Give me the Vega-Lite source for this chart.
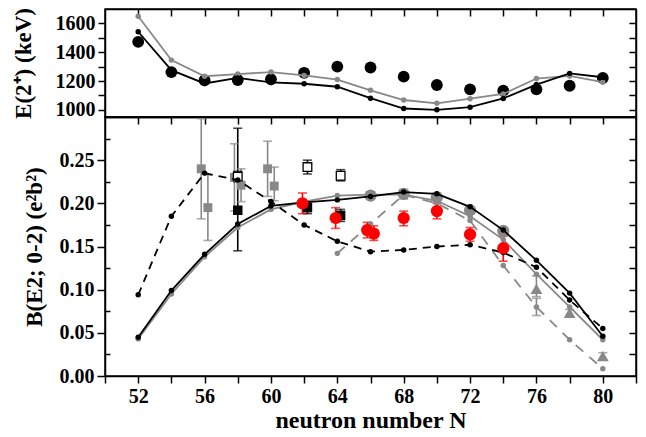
{
  "$schema": "https://vega.github.io/schema/vega-lite/v6.json",
  "padding": {"left": 11, "top": 6, "right": 8, "bottom": 2},
  "spacing": 0,
  "bounds": "flush",
  "background": "white",
  "datasets": {
    "topExp": [
      {"N": 52, "E": 1472}, {"N": 54, "E": 1262}, {"N": 56, "E": 1205}, {"N": 58, "E": 1207},
      {"N": 60, "E": 1212}, {"N": 62, "E": 1257}, {"N": 64, "E": 1300}, {"N": 66, "E": 1294},
      {"N": 68, "E": 1230}, {"N": 70, "E": 1172}, {"N": 72, "E": 1142}, {"N": 74, "E": 1133},
      {"N": 76, "E": 1142}, {"N": 78, "E": 1167}, {"N": 80, "E": 1221}
    ],
    "topTh": [
      {"N": 52, "E": 1542, "m": "black"}, {"N": 54, "E": 1275, "m": "black"}, {"N": 56, "E": 1183, "m": "black"},
      {"N": 58, "E": 1221, "m": "black"}, {"N": 60, "E": 1190, "m": "black"}, {"N": 62, "E": 1181, "m": "black"},
      {"N": 64, "E": 1160, "m": "black"}, {"N": 66, "E": 1081, "m": "black"}, {"N": 68, "E": 1009, "m": "black"},
      {"N": 70, "E": 1000, "m": "black"}, {"N": 72, "E": 1018, "m": "black"}, {"N": 74, "E": 1079, "m": "black"},
      {"N": 76, "E": 1175, "m": "black"}, {"N": 78, "E": 1253, "m": "black"}, {"N": 80, "E": 1226, "m": "black"},
      {"N": 52, "E": 1650, "m": "gray"}, {"N": 54, "E": 1345, "m": "gray"}, {"N": 56, "E": 1233, "m": "gray"},
      {"N": 58, "E": 1248, "m": "gray"}, {"N": 60, "E": 1262, "m": "gray"}, {"N": 62, "E": 1239, "m": "gray"},
      {"N": 64, "E": 1210, "m": "gray"}, {"N": 66, "E": 1135, "m": "gray"}, {"N": 68, "E": 1068, "m": "gray"},
      {"N": 70, "E": 1045, "m": "gray"}, {"N": 72, "E": 1077, "m": "gray"}, {"N": 74, "E": 1110, "m": "gray"},
      {"N": 76, "E": 1217, "m": "gray"}, {"N": 78, "E": 1235, "m": "gray"}, {"N": 80, "E": 1192, "m": "gray"}
    ],
    "btTh": [
      {"N": 52, "B": 0.045, "m": "sb"}, {"N": 54, "B": 0.099, "m": "sb"}, {"N": 56, "B": 0.141, "m": "sb"},
      {"N": 58, "B": 0.176, "m": "sb"}, {"N": 60, "B": 0.197, "m": "sb"}, {"N": 62, "B": 0.201, "m": "sb"},
      {"N": 64, "B": 0.204, "m": "sb"}, {"N": 66, "B": 0.208, "m": "sb"}, {"N": 68, "B": 0.213, "m": "sb"},
      {"N": 70, "B": 0.211, "m": "sb"}, {"N": 72, "B": 0.196, "m": "sb"}, {"N": 74, "B": 0.169, "m": "sb"},
      {"N": 76, "B": 0.134, "m": "sb"}, {"N": 78, "B": 0.096, "m": "sb"}, {"N": 80, "B": 0.046, "m": "sb"},
      {"N": 52, "B": 0.043, "m": "sg"}, {"N": 54, "B": 0.095, "m": "sg"}, {"N": 56, "B": 0.138, "m": "sg"},
      {"N": 58, "B": 0.172, "m": "sg"}, {"N": 60, "B": 0.193, "m": "sg"}, {"N": 62, "B": 0.202, "m": "sg"},
      {"N": 64, "B": 0.209, "m": "sg"}, {"N": 66, "B": 0.21, "m": "sg"}, {"N": 68, "B": 0.21, "m": "sg"},
      {"N": 70, "B": 0.203, "m": "sg"}, {"N": 72, "B": 0.185, "m": "sg"}, {"N": 74, "B": 0.158, "m": "sg"},
      {"N": 76, "B": 0.118, "m": "sg"}, {"N": 78, "B": 0.08, "m": "sg"}, {"N": 80, "B": 0.042, "m": "sg"},
      {"N": 52, "B": 0.094, "m": "db"}, {"N": 54, "B": 0.185, "m": "db"}, {"N": 56, "B": 0.235, "m": "db"},
      {"N": 58, "B": 0.227, "m": "db"}, {"N": 60, "B": 0.202, "m": "db"}, {"N": 62, "B": 0.175, "m": "db"},
      {"N": 64, "B": 0.156, "m": "db"}, {"N": 66, "B": 0.144, "m": "db"}, {"N": 68, "B": 0.146, "m": "db"},
      {"N": 70, "B": 0.15, "m": "db"}, {"N": 72, "B": 0.152, "m": "db"}, {"N": 74, "B": 0.143, "m": "db"},
      {"N": 76, "B": 0.126, "m": "db"}, {"N": 78, "B": 0.088, "m": "db"}, {"N": 80, "B": 0.055, "m": "db"},
      {"N": 64, "B": 0.142, "m": "dg"}, {"N": 66, "B": 0.176, "m": "dg"}, {"N": 68, "B": 0.21, "m": "dg"},
      {"N": 70, "B": 0.2, "m": "dg"}, {"N": 72, "B": 0.18, "m": "dg"}, {"N": 74, "B": 0.128, "m": "dg"},
      {"N": 76, "B": 0.08, "m": "dg"}, {"N": 78, "B": 0.042, "m": "dg"}, {"N": 80, "B": 0.0085, "m": "dg"}
    ],
    "btExp": [
      {"N": 55.8, "B": 0.24, "lo": 0.182, "hi": 0.298, "k": "gsq"},
      {"N": 56.2, "B": 0.195, "lo": 0.157, "hi": 0.233, "k": "gsq"},
      {"N": 57.8, "B": 0.23, "lo": 0.191, "hi": 0.269, "k": "gsq"},
      {"N": 58.2, "B": 0.221, "lo": 0.202, "hi": 0.24, "k": "gsq"},
      {"N": 59.8, "B": 0.24, "lo": 0.208, "hi": 0.272, "k": "gsq"},
      {"N": 60.2, "B": 0.22, "lo": 0.203, "hi": 0.242, "k": "gsq"},
      {"N": 58.0, "B": 0.192, "lo": 0.145, "hi": 0.287, "k": "bsq"},
      {"N": 62.2, "B": 0.195, "lo": 0.188, "hi": 0.202, "k": "bsq"},
      {"N": 64.2, "B": 0.186, "lo": 0.179, "hi": 0.193, "k": "bsq"},
      {"N": 58.0, "B": 0.231, "lo": 0.225, "hi": 0.237, "k": "osq"},
      {"N": 62.2, "B": 0.242, "lo": 0.234, "hi": 0.25, "k": "osq"},
      {"N": 64.2, "B": 0.232, "lo": 0.226, "hi": 0.239, "k": "osq"},
      {"N": 61.9, "B": 0.2, "lo": 0.188, "hi": 0.212, "k": "red"},
      {"N": 63.9, "B": 0.183, "lo": 0.171, "hi": 0.195, "k": "red"},
      {"N": 65.8, "B": 0.169, "lo": 0.16, "hi": 0.178, "k": "red"},
      {"N": 66.2, "B": 0.165, "lo": 0.157, "hi": 0.174, "k": "red"},
      {"N": 68.0, "B": 0.183, "lo": 0.174, "hi": 0.191, "k": "red"},
      {"N": 70.0, "B": 0.191, "lo": 0.182, "hi": 0.2, "k": "red"},
      {"N": 72.0, "B": 0.164, "lo": 0.156, "hi": 0.172, "k": "red"},
      {"N": 74.0, "B": 0.148, "lo": 0.133, "hi": 0.162, "k": "red"},
      {"N": 66.0, "B": 0.209, "lo": 0.205, "hi": 0.213, "k": "gci"},
      {"N": 68.0, "B": 0.211, "lo": 0.205, "hi": 0.216, "k": "gci"},
      {"N": 70.0, "B": 0.207, "lo": 0.201, "hi": 0.212, "k": "gci"},
      {"N": 72.0, "B": 0.192, "lo": 0.188, "hi": 0.196, "k": "gci"},
      {"N": 74.0, "B": 0.168, "lo": 0.164, "hi": 0.172, "k": "gci"},
      {"N": 76.0, "B": 0.101, "lo": 0.092, "hi": 0.116, "k": "gtr"},
      {"N": 78.0, "B": 0.073, "lo": 0.069, "hi": 0.077, "k": "gtr"},
      {"N": 80.0, "B": 0.023, "lo": 0.019, "hi": 0.027, "k": "gtr"},
      {"N": 76.0, "B": 0.08, "lo": 0.07, "hi": 0.09, "k": "gdot"}
    ]
  },
  "vconcat": [
    {
      "width": 531,
      "height": 108,
      "layer": [
        {
          "data": {"name": "topExp"},
          "mark": {"type": "point", "opacity": 0},
          "encoding": {
            "x": {"field": "N", "type": "quantitative", "scale": {"domain": [50, 82], "nice": false, "zero": false},
                  "axis": {"orient": "bottom", "values": [50,52,54,56,58,60,62,64,66,68,70,72,74,76,78,80,82], "labels": false, "ticks": false, "title": null}},
            "y": {"field": "E", "type": "quantitative", "scale": {"domain": [950, 1700], "nice": false, "zero": false},
                  "axis": {"orient": "left", "values": [1000,1100,1200,1300,1400,1500,1600], "format": "d", "tickSize": 7, "labelPadding": 3,
                           "labelExpr": "datum.value % 200 == 0 ? datum.label : ''", "title": "E(2⁺) (keV)", "titlePadding": 20}}
          }
        },
        {
          "data": {"name": "topExp"},
          "mark": {"type": "point", "opacity": 0},
          "encoding": {
            "x": {"field": "N", "type": "quantitative", "scale": {"domain": [50, 82], "nice": false, "zero": false},
                  "axis": {"orient": "top", "values": [52,54,56,58,60,62,64,66,68,70,72,74,76,78,80], "labels": false, "tickSize": -7, "title": null}},
            "y": {"field": "E", "type": "quantitative", "scale": {"domain": [950, 1700], "nice": false, "zero": false},
                  "axis": {"orient": "right", "values": [1000,1100,1200,1300,1400,1500,1600], "labels": false, "tickSize": -7, "title": null}}
          }
        },
        {
          "data": {"name": "topExp"},
          "mark": {"type": "circle", "color": "black", "opacity": 1, "size": 140},
          "encoding": {
            "x": {"field": "N", "type": "quantitative", "scale": {"domain": [50, 82], "nice": false, "zero": false}, "axis": null},
            "y": {"field": "E", "type": "quantitative", "scale": {"domain": [950, 1700], "nice": false, "zero": false}, "axis": null}
          }
        },
        {
          "data": {"name": "topTh"},
          "transform": [{"filter": "datum.m == 'gray'"}],
          "mark": {"type": "line", "color": "#888888", "strokeWidth": 1.8, "point": {"filled": true, "color": "#888888", "size": 30}},
          "encoding": {
            "x": {"field": "N", "type": "quantitative", "scale": {"domain": [50, 82], "nice": false, "zero": false}, "axis": null},
            "y": {"field": "E", "type": "quantitative", "scale": {"domain": [950, 1700], "nice": false, "zero": false}, "axis": null}
          }
        },
        {
          "data": {"name": "topTh"},
          "transform": [{"filter": "datum.m == 'black'"}],
          "mark": {"type": "line", "color": "black", "strokeWidth": 1.8, "point": {"filled": true, "color": "black", "size": 30}},
          "encoding": {
            "x": {"field": "N", "type": "quantitative", "scale": {"domain": [50, 82], "nice": false, "zero": false}, "axis": null},
            "y": {"field": "E", "type": "quantitative", "scale": {"domain": [950, 1700], "nice": false, "zero": false}, "axis": null}
          }
        }
      ],
      "resolve": {"axis": {"x": "independent", "y": "independent"}}
    },
    {
      "width": 531,
      "height": 259,
      "layer": [
        {
          "data": {"name": "btTh"},
          "mark": {"type": "point", "opacity": 0},
          "encoding": {
            "x": {"field": "N", "type": "quantitative", "scale": {"domain": [50, 82], "nice": false, "zero": false},
                  "axis": {"orient": "bottom", "values": [50,52,54,56,58,60,62,64,66,68,70,72,74,76,78,80,82], "tickSize": 7, "labelPadding": 3,
                           "labelExpr": "(datum.value - 52) % 4 == 0 ? datum.label : ''", "title": "neutron number N", "titlePadding": 2, "titleFontSize": 24}},
            "y": {"field": "B", "type": "quantitative", "scale": {"domain": [0, 0.3], "nice": false, "zero": false},
                  "axis": {"orient": "left", "values": [0, 0.05, 0.1, 0.15, 0.2, 0.25], "format": ".2f", "tickSize": 8, "labelPadding": 3,
                           "title": "B(E2; 0-2) (e²b²)", "titlePadding": 13}}
          }
        },
        {
          "data": {"name": "btTh"},
          "mark": {"type": "point", "opacity": 0},
          "encoding": {
            "x": {"field": "N", "type": "quantitative", "scale": {"domain": [50, 82], "nice": false, "zero": false},
                  "axis": {"orient": "top", "values": [52,54,56,58,60,62,64,66,68,70,72,74,76,78,80], "labels": false, "tickSize": -7, "title": null}},
            "y": {"field": "B", "type": "quantitative", "scale": {"domain": [0, 0.3], "nice": false, "zero": false},
                  "axis": {"orient": "right", "values": [0.025, 0.05, 0.075, 0.1, 0.125, 0.15, 0.175, 0.2, 0.225, 0.25, 0.275], "labels": false, "tickSize": -7, "title": null}}
          }
        },
        {
          "data": {"name": "btTh"},
          "mark": {"type": "point", "opacity": 0},
          "encoding": {
            "x": {"field": "N", "type": "quantitative", "scale": {"domain": [50, 82], "nice": false, "zero": false}, "axis": null},
            "y": {"field": "B", "type": "quantitative", "scale": {"domain": [0, 0.3], "nice": false, "zero": false},
                  "axis": {"orient": "left", "values": [0.025, 0.075, 0.125, 0.175, 0.225, 0.275], "labels": false, "domain": false, "tickSize": -5, "title": null}}
          }
        },
        {
          "data": {"name": "btExp"},
          "mark": {"type": "rule", "strokeWidth": 1.6},
          "encoding": {
            "x": {"field": "N", "type": "quantitative", "scale": {"domain": [50, 82], "nice": false, "zero": false}, "axis": null},
            "y": {"field": "lo", "type": "quantitative", "scale": {"domain": [0, 0.3], "nice": false, "zero": false}, "axis": null},
            "y2": {"field": "hi"},
            "color": {"field": "k", "type": "nominal", "legend": null,
                      "scale": {"domain": ["gsq", "bsq", "osq", "red", "gci", "gtr", "gdot"], "range": ["#888888", "black", "black", "#ff0000", "#888888", "#888888", "#888888"]}}
          }
        },
        {
          "data": {"name": "btExp"},
          "transform": [{"fold": ["lo", "hi"], "as": ["end", "val"]}],
          "mark": {"type": "tick", "orient": "horizontal", "size": 9, "thickness": 1.6},
          "encoding": {
            "x": {"field": "N", "type": "quantitative", "scale": {"domain": [50, 82], "nice": false, "zero": false}, "axis": null},
            "y": {"field": "val", "type": "quantitative", "scale": {"domain": [0, 0.3], "nice": false, "zero": false}, "axis": null},
            "color": {"field": "k", "type": "nominal", "legend": null,
                      "scale": {"domain": ["gsq", "bsq", "osq", "red", "gci", "gtr", "gdot"], "range": ["#888888", "black", "black", "#ff0000", "#888888", "#888888", "#888888"]}}
          }
        },
        {
          "data": {"name": "btExp"},
          "transform": [{"filter": "datum.k == 'gsq'"}],
          "mark": {"type": "square", "filled": true, "color": "#888888", "opacity": 1, "size": 80},
          "encoding": {
            "x": {"field": "N", "type": "quantitative", "scale": {"domain": [50, 82], "nice": false, "zero": false}, "axis": null},
            "y": {"field": "B", "type": "quantitative", "scale": {"domain": [0, 0.3], "nice": false, "zero": false}, "axis": null}
          }
        },
        {
          "data": {"name": "btExp"},
          "transform": [{"filter": "datum.k == 'bsq'"}],
          "mark": {"type": "square", "filled": true, "color": "black", "opacity": 1, "size": 90},
          "encoding": {
            "x": {"field": "N", "type": "quantitative", "scale": {"domain": [50, 82], "nice": false, "zero": false}, "axis": null},
            "y": {"field": "B", "type": "quantitative", "scale": {"domain": [0, 0.3], "nice": false, "zero": false}, "axis": null}
          }
        },
        {
          "data": {"name": "btExp"},
          "transform": [{"filter": "datum.k == 'osq'"}],
          "mark": {"type": "square", "filled": true, "fill": "white", "stroke": "black", "strokeWidth": 1.3, "opacity": 1, "size": 75},
          "encoding": {
            "x": {"field": "N", "type": "quantitative", "scale": {"domain": [50, 82], "nice": false, "zero": false}, "axis": null},
            "y": {"field": "B", "type": "quantitative", "scale": {"domain": [0, 0.3], "nice": false, "zero": false}, "axis": null}
          }
        },
        {
          "data": {"name": "btExp"},
          "transform": [{"filter": "datum.k == 'gci'"}],
          "mark": {"type": "circle", "color": "#888888", "opacity": 1, "size": 150},
          "encoding": {
            "x": {"field": "N", "type": "quantitative", "scale": {"domain": [50, 82], "nice": false, "zero": false}, "axis": null},
            "y": {"field": "B", "type": "quantitative", "scale": {"domain": [0, 0.3], "nice": false, "zero": false}, "axis": null}
          }
        },
        {
          "data": {"name": "btExp"},
          "transform": [{"filter": "datum.k == 'gtr'"}],
          "mark": {"type": "point", "shape": "triangle-up", "filled": true, "color": "#888888", "opacity": 1, "size": 140},
          "encoding": {
            "x": {"field": "N", "type": "quantitative", "scale": {"domain": [50, 82], "nice": false, "zero": false}, "axis": null},
            "y": {"field": "B", "type": "quantitative", "scale": {"domain": [0, 0.3], "nice": false, "zero": false}, "axis": null}
          }
        },
        {
          "data": {"name": "btTh"},
          "transform": [{"filter": "datum.m == 'sg'"}],
          "mark": {"type": "line", "color": "#888888", "strokeWidth": 1.8, "point": {"filled": true, "color": "#888888", "size": 30}},
          "encoding": {
            "x": {"field": "N", "type": "quantitative", "scale": {"domain": [50, 82], "nice": false, "zero": false}, "axis": null},
            "y": {"field": "B", "type": "quantitative", "scale": {"domain": [0, 0.3], "nice": false, "zero": false}, "axis": null}
          }
        },
        {
          "data": {"name": "btTh"},
          "transform": [{"filter": "datum.m == 'dg'"}],
          "mark": {"type": "line", "color": "#888888", "strokeWidth": 1.8, "strokeDash": [10, 8], "point": {"filled": true, "color": "#888888", "size": 30}},
          "encoding": {
            "x": {"field": "N", "type": "quantitative", "scale": {"domain": [50, 82], "nice": false, "zero": false}, "axis": null},
            "y": {"field": "B", "type": "quantitative", "scale": {"domain": [0, 0.3], "nice": false, "zero": false}, "axis": null}
          }
        },
        {
          "data": {"name": "btTh"},
          "transform": [{"filter": "datum.m == 'sb'"}],
          "mark": {"type": "line", "color": "black", "strokeWidth": 1.8, "point": {"filled": true, "color": "black", "size": 30}},
          "encoding": {
            "x": {"field": "N", "type": "quantitative", "scale": {"domain": [50, 82], "nice": false, "zero": false}, "axis": null},
            "y": {"field": "B", "type": "quantitative", "scale": {"domain": [0, 0.3], "nice": false, "zero": false}, "axis": null}
          }
        },
        {
          "data": {"name": "btTh"},
          "transform": [{"filter": "datum.m == 'db'"}],
          "mark": {"type": "line", "color": "black", "strokeWidth": 1.8, "strokeDash": [8, 6], "point": {"filled": true, "color": "black", "size": 30}},
          "encoding": {
            "x": {"field": "N", "type": "quantitative", "scale": {"domain": [50, 82], "nice": false, "zero": false}, "axis": null},
            "y": {"field": "B", "type": "quantitative", "scale": {"domain": [0, 0.3], "nice": false, "zero": false}, "axis": null}
          }
        },
        {
          "data": {"name": "btExp"},
          "transform": [{"filter": "datum.k == 'red'"}],
          "mark": {"type": "circle", "color": "#ff0000", "opacity": 1, "size": 150},
          "encoding": {
            "x": {"field": "N", "type": "quantitative", "scale": {"domain": [50, 82], "nice": false, "zero": false}, "axis": null},
            "y": {"field": "B", "type": "quantitative", "scale": {"domain": [0, 0.3], "nice": false, "zero": false}, "axis": null}
          }
        }
      ],
      "resolve": {"axis": {"x": "independent", "y": "independent"}}
    }
  ],
  "config": {
    "view": {"stroke": "black", "strokeWidth": 1.5},
    "font": "Liberation Serif",
    "axis": {
      "grid": false,
      "labelFont": "Liberation Serif", "labelFontWeight": "bold", "labelFontSize": 20, "labelColor": "black",
      "titleFont": "Liberation Serif", "titleFontWeight": "bold", "titleFontSize": 23, "titleColor": "black",
      "domainColor": "black", "domainWidth": 1.5, "tickColor": "black", "tickWidth": 1.5
    }
  }
}
